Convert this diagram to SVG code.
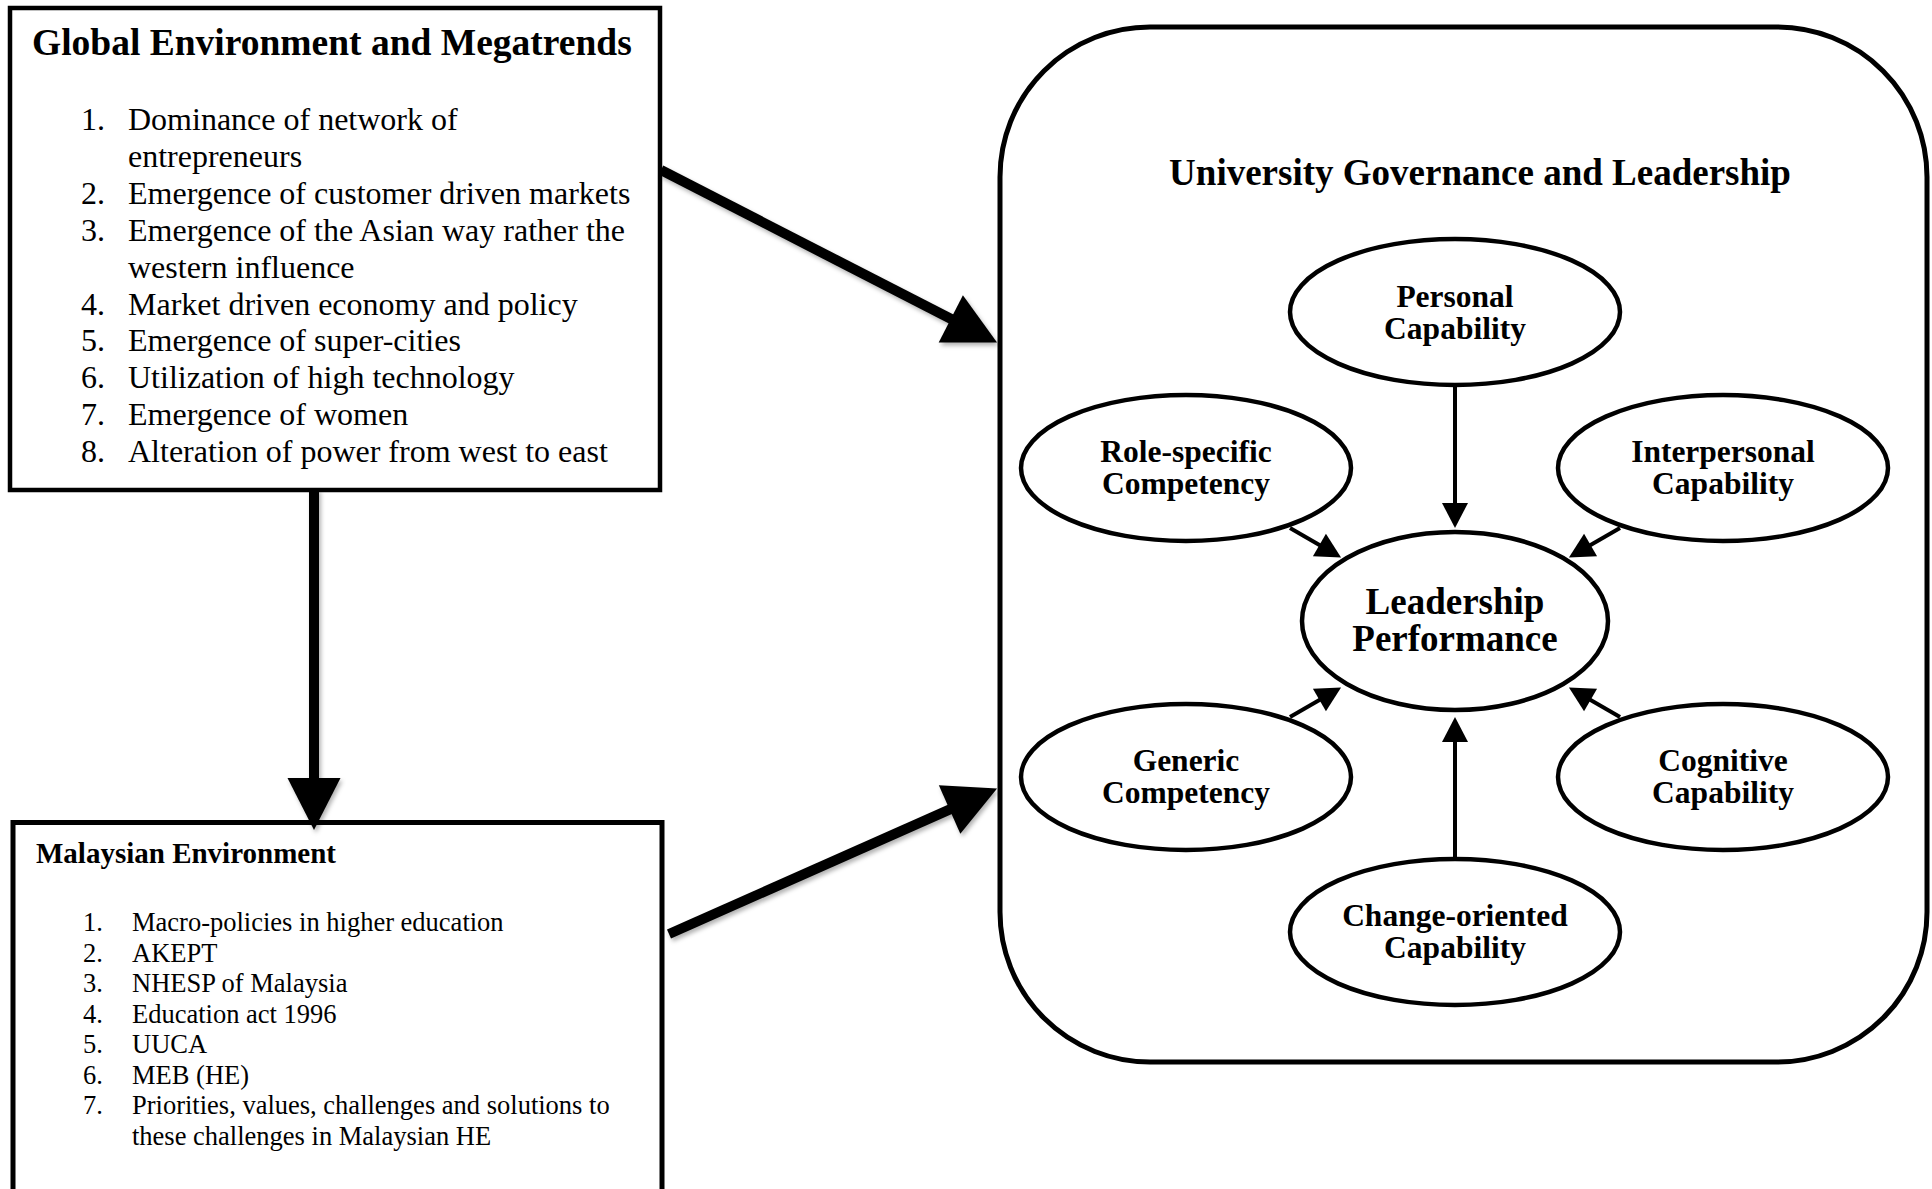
<svg xmlns="http://www.w3.org/2000/svg" width="1932" height="1189" viewBox="0 0 1932 1189">
  <style>
    text { font-family: "Liberation Serif", "Times New Roman", serif; fill: #000; }
    .box { fill: #fff; stroke: #000; stroke-width: 4.5; }
    .frame { fill: #fff; stroke: #000; stroke-width: 5; }
    .oval { fill: #fff; stroke: #000; stroke-width: 4.5; }
    .h1 { font-size: 37.5px; font-weight: bold; }
    .h2 { font-size: 29px; font-weight: bold; }
    .li-g { font-size: 32px; }
    .li-m { font-size: 26.5px; }
    .lbl { font-size: 31.5px; font-weight: bold; text-anchor: middle; }
    .lbl-big { font-size: 37px; font-weight: bold; text-anchor: middle; }
    .thick { fill: none; stroke: #000; stroke-width: 10; marker-end: url(#bigHead); filter: url(#shadow); }
    .thin { fill: none; stroke: #000; stroke-width: 4; marker-end: url(#smallHead); }
  </style>
  <defs>
    <marker id="bigHead" markerUnits="userSpaceOnUse" markerWidth="52" markerHeight="53" refX="1" refY="26.5" orient="auto" overflow="visible">
      <path d="M0,0 L52,26.5 L0,53 Z" fill="#000"/>
    </marker>
    <marker id="smallHead" markerUnits="userSpaceOnUse" markerWidth="25" markerHeight="26" refX="1" refY="13" orient="auto" overflow="visible">
      <path d="M0,0 L25,13 L0,26 Z" fill="#000"/>
    </marker>
    <!-- absolute region so straight vertical strokes keep their shadow -->
    <filter id="shadow" filterUnits="userSpaceOnUse" x="0" y="0" width="1932" height="1189">
      <feDropShadow dx="2" dy="3" stdDeviation="2" flood-color="#000" flood-opacity="0.3"/>
    </filter>
  </defs>

  <rect width="1932" height="1189" fill="#fff"/>

  <!-- Global environment box -->
  <g id="global-environment">
    <rect class="box" x="10" y="8" width="650" height="482"/>
    <text class="h1" x="32" y="55">Global Environment and Megatrends</text>
    <g class="li-g">
      <text x="81" y="130">1.</text><text x="128" y="130">Dominance of network of</text>
      <text x="128" y="167">entrepreneurs</text>
      <text x="81" y="204">2.</text><text x="128" y="204">Emergence of customer driven markets</text>
      <text x="81" y="241">3.</text><text x="128" y="241">Emergence of the Asian way rather the</text>
      <text x="128" y="278">western influence</text>
      <text x="81" y="315">4.</text><text x="128" y="315">Market driven economy and policy</text>
      <text x="81" y="351">5.</text><text x="128" y="351">Emergence of super-cities</text>
      <text x="81" y="388">6.</text><text x="128" y="388">Utilization of high technology</text>
      <text x="81" y="425">7.</text><text x="128" y="425">Emergence of women</text>
      <text x="81" y="462">8.</text><text x="128" y="462">Alteration of power from west to east</text>
    </g>
  </g>

  <!-- Malaysian environment box (runs past the bottom edge) -->
  <g id="malaysian-environment">
    <rect class="frame" x="13" y="822.5" width="649" height="420"/>
    <text class="h2" x="36" y="863">Malaysian Environment</text>
    <g class="li-m">
      <text x="83" y="931">1.</text><text x="132" y="931">Macro-policies in higher education</text>
      <text x="83" y="961.5">2.</text><text x="132" y="961.5">AKEPT</text>
      <text x="83" y="992">3.</text><text x="132" y="992">NHESP of Malaysia</text>
      <text x="83" y="1022.5">4.</text><text x="132" y="1022.5">Education act 1996</text>
      <text x="83" y="1053">5.</text><text x="132" y="1053">UUCA</text>
      <text x="83" y="1083.5">6.</text><text x="132" y="1083.5">MEB (HE)</text>
      <text x="83" y="1114">7.</text><text x="132" y="1114">Priorities, values, challenges and solutions to</text>
      <text x="132" y="1144.5">these challenges in Malaysian HE</text>
    </g>
  </g>

  <!-- University governance container -->
  <g id="university-governance">
    <rect class="frame" x="1000" y="27" width="927" height="1035" rx="150" ry="150"/>
    <text class="h1" x="1480" y="185" text-anchor="middle" style="font-size:37px">University Governance and Leadership</text>
  </g>

  <g id="personal-capability">
    <ellipse class="oval" cx="1455" cy="312" rx="165" ry="73"/>
    <text class="lbl" x="1455" y="307">Personal</text>
    <text class="lbl" x="1455" y="339">Capability</text>
  </g>
  <g id="role-specific-competency">
    <ellipse class="oval" cx="1186" cy="468" rx="165" ry="73"/>
    <text class="lbl" x="1186" y="462">Role-specific</text>
    <text class="lbl" x="1186" y="494">Competency</text>
  </g>
  <g id="interpersonal-capability">
    <ellipse class="oval" cx="1723" cy="468" rx="165" ry="73"/>
    <text class="lbl" x="1723" y="462">Interpersonal</text>
    <text class="lbl" x="1723" y="494">Capability</text>
  </g>
  <g id="leadership-performance">
    <ellipse class="oval" cx="1455" cy="621" rx="153" ry="89"/>
    <text class="lbl-big" x="1455" y="614">Leadership</text>
    <text class="lbl-big" x="1455" y="651">Performance</text>
  </g>
  <g id="generic-competency">
    <ellipse class="oval" cx="1186" cy="777" rx="165" ry="73"/>
    <text class="lbl" x="1186" y="771">Generic</text>
    <text class="lbl" x="1186" y="803">Competency</text>
  </g>
  <g id="cognitive-capability">
    <ellipse class="oval" cx="1723" cy="777" rx="165" ry="73"/>
    <text class="lbl" x="1723" y="771">Cognitive</text>
    <text class="lbl" x="1723" y="803">Capability</text>
  </g>
  <g id="change-oriented-capability">
    <ellipse class="oval" cx="1455" cy="932" rx="165" ry="73"/>
    <text class="lbl" x="1455" y="926">Change-oriented</text>
    <text class="lbl" x="1455" y="958">Capability</text>
  </g>

  <!-- Connectors -->
  <g id="connectors">
    <path class="thick" d="M314,489 L314,779"/>
    <path class="thick" d="M661,170 L951.7,319.3"/>
    <path class="thick" d="M669,934 L950.5,809.1"/>

    <path class="thin" d="M1455,386 L1455,504"/>
    <path class="thin" d="M1455,858 L1455,741"/>
    <path class="thin" d="M1290,528 L1320.3,545.5"/>
    <path class="thin" d="M1620,528 L1589.7,545.5"/>
    <path class="thin" d="M1290,717 L1320.3,699.5"/>
    <path class="thin" d="M1620,717 L1589.7,699.5"/>
  </g>
</svg>
